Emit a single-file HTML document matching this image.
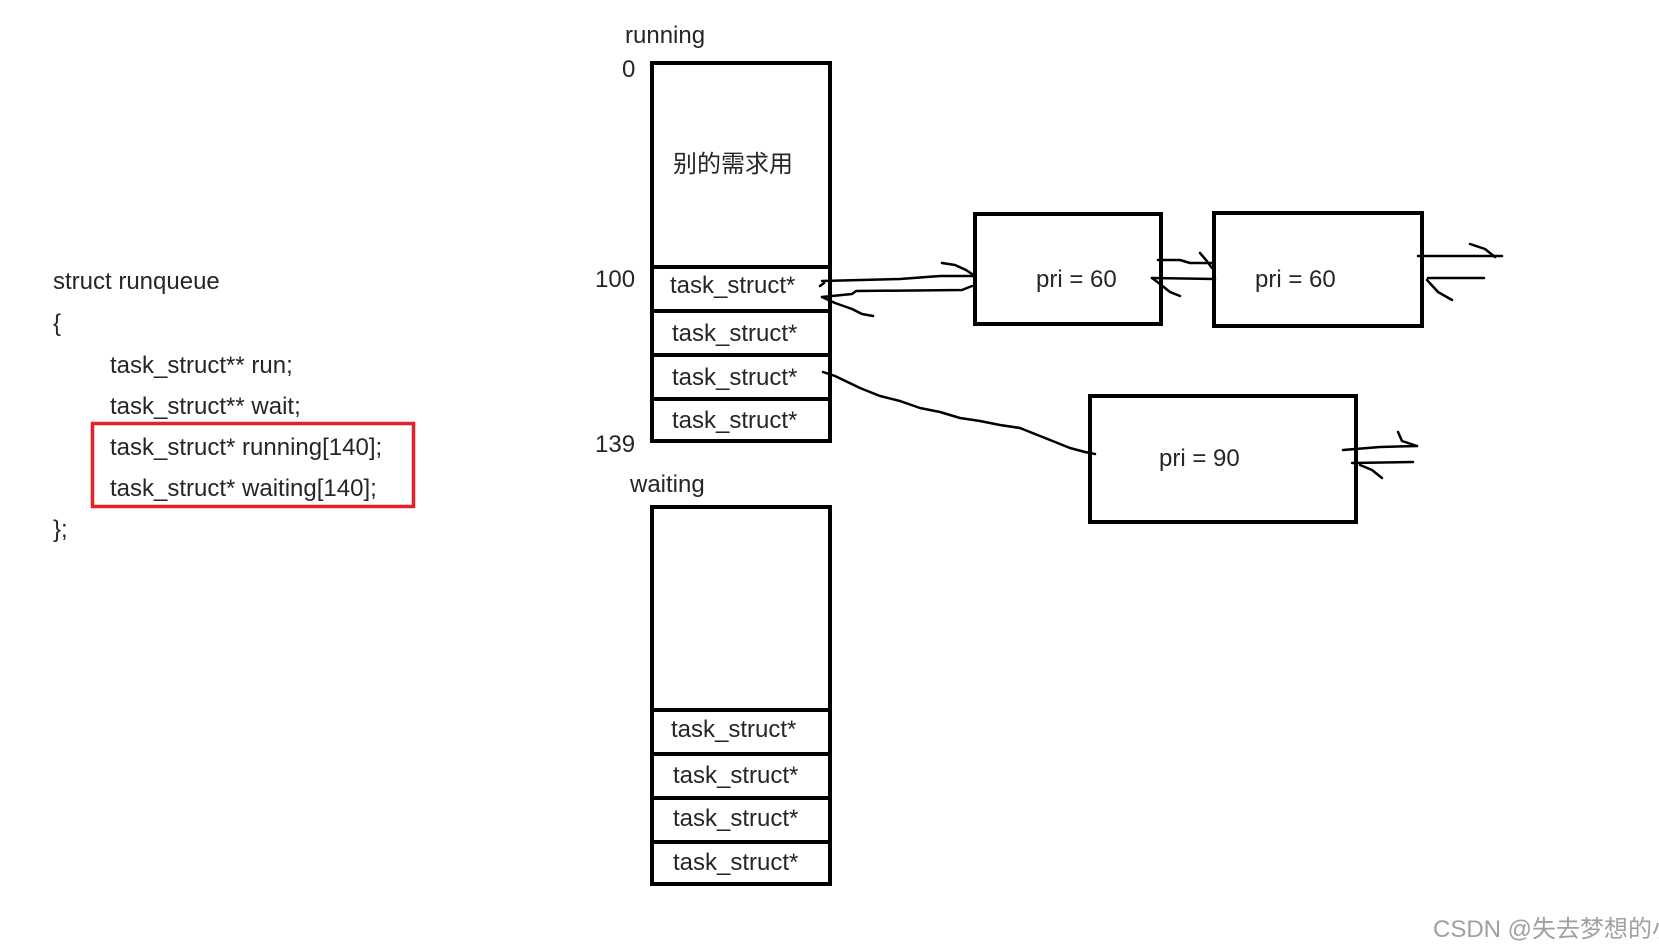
<!DOCTYPE html>
<html><head><meta charset="utf-8"><style>
html,body{margin:0;padding:0;background:#fff;}
svg{display:block;}
text{font-family:"Liberation Sans","Noto Sans CJK SC",sans-serif;fill:#262626;font-size:24px;}
</style></head><body>
<svg width="1659" height="948" viewBox="0 0 1659 948" xmlns="http://www.w3.org/2000/svg">
<!-- code -->
<text x="53" y="289">struct runqueue</text>
<text x="53" y="331">{</text>
<text x="110" y="373">task_struct** run;</text>
<text x="110" y="414">task_struct** wait;</text>
<text x="110" y="455">task_struct* running[140];</text>
<text x="110" y="496">task_struct* waiting[140];</text>
<text x="53" y="537">};</text>
<rect x="92.5" y="423.5" width="321" height="83" fill="none" stroke="#e8202a" stroke-width="3.5"/>

<!-- running -->
<text x="625" y="43">running</text>
<text x="622" y="77">0</text>
<text x="595" y="287">100</text>
<text x="595" y="452">139</text>
<g fill="none" stroke="#000" stroke-width="4">
<rect x="652" y="63" width="178" height="378"/>
<line x1="652" y1="267" x2="830" y2="267"/>
<line x1="652" y1="311" x2="830" y2="311"/>
<line x1="652" y1="355" x2="830" y2="355"/>
<line x1="652" y1="399" x2="830" y2="399"/>
</g>
<text x="673" y="172" font-size="24">别的需求用</text>
<text x="670" y="293">task_struct*</text>
<text x="672" y="341">task_struct*</text>
<text x="672" y="385">task_struct*</text>
<text x="672" y="428">task_struct*</text>

<!-- waiting -->
<text x="630" y="492">waiting</text>
<g fill="none" stroke="#000" stroke-width="4">
<rect x="652" y="507" width="178" height="377"/>
<line x1="652" y1="710" x2="830" y2="710"/>
<line x1="652" y1="754" x2="830" y2="754"/>
<line x1="652" y1="798" x2="830" y2="798"/>
<line x1="652" y1="842" x2="830" y2="842"/>
</g>
<text x="671" y="737">task_struct*</text>
<text x="673" y="783">task_struct*</text>
<text x="673" y="826">task_struct*</text>
<text x="673" y="870">task_struct*</text>

<!-- pri boxes -->
<g fill="none" stroke="#000" stroke-width="4">
<rect x="975" y="214" width="186" height="110"/>
<rect x="1214" y="213" width="208" height="113"/>
<rect x="1090" y="396" width="266" height="126"/>
</g>
<text x="1036" y="287">pri = 60</text>
<text x="1255" y="287">pri = 60</text>
<text x="1159" y="466">pri = 90</text>

<!-- connectors -->
<g fill="none" stroke="#000" stroke-width="2.5" stroke-linecap="round" stroke-linejoin="round">
<path d="M822,281 L900,279 L940,276 L975,276"/>
<path d="M942,263 L955,265 L966,270 L975,276"/>
<path d="M822,297 L852,294 L856,291 L962,290 L972,286"/>
<path d="M822,297 L835,303 L852,309 L862,314 L873,316"/>
<path d="M820,286 L824,283"/>
<path d="M1158,260 L1180,260 L1190,263 L1212,263"/>
<path d="M1200,253 L1206,260 L1212,268"/>
<path d="M1152,278 L1215,279"/>
<path d="M1152,278 L1160,284 L1170,292 L1180,296"/>
<path d="M1418,256 L1502,256"/>
<path d="M1470,244 L1485,249 L1495,257"/>
<path d="M1428,278 L1484,278"/>
<path d="M1427,280 L1438,292 L1452,300"/>
<path d="M823,372 L835,376 L860,388 L880,396 L900,401 L920,408 L940,412 L960,418 L980,421 L1000,425 L1020,428 L1040,436 L1055,442 L1070,448 L1085,452 L1095,454"/>
<path d="M1343,450 L1380,447 L1417,446"/>
<path d="M1398,432 L1402,441 L1417,446"/>
<path d="M1352,463 L1413,462"/>
<path d="M1360,465 L1372,470 L1382,478"/>
</g>

<text x="1433" y="937" font-size="19" style="fill:#a0a0a0">CSDN @失去梦想的小草</text>
</svg>
</body></html>
